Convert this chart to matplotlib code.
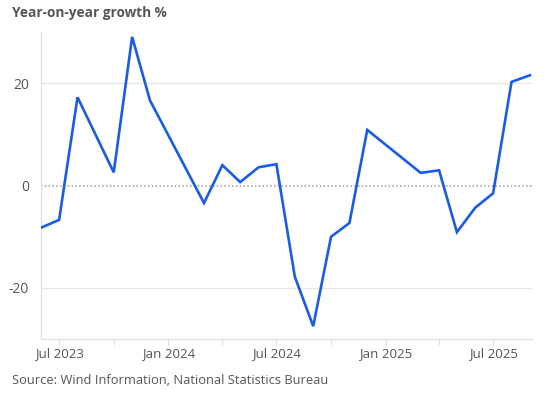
import matplotlib
matplotlib.use("Agg")
import matplotlib.pyplot as plt
import matplotlib.dates as mdates
import pandas as pd

months = ["2023-06", "2023-07", "2023-08", "2023-10", "2023-11", "2023-12",
          "2024-03", "2024-04", "2024-05", "2024-06", "2024-07", "2024-08",
          "2024-09", "2024-10", "2024-11", "2024-12",
          "2025-03", "2025-04", "2025-05", "2025-06", "2025-07", "2025-08", "2025-09"]
growth = [-8.2, -6.7, 17.3, 2.6, 29.1, 16.7,
          -3.4, 4.0, 0.7, 3.6, 4.2, -17.8,
          -27.5, -10.0, -7.3, 10.9,
          2.5, 3.0, -9.1, -4.3, -1.5, 20.3, 21.6]
ytick_vals = [-20, 0, 20]
ytick_labels = ["-20", "0", "20"]
title = "Year-on-year growth %"
source = "Source: Wind Information, National Statistics Bureau"

dates = pd.to_datetime(months)

plt.rcParams['font.family'] = ['Open Sans', 'DejaVu Sans']
fig = plt.figure(figsize=(5.59, 3.99), dpi=100)
ax = fig.add_axes([41.3/559, 1-339/399, (531.7-41.3)/559, (339-32.3)/399])

ax.axhline(20, color="#e6e6e6", lw=0.9, zorder=1)
ax.axhline(-20, color="#e6e6e6", lw=0.9, zorder=1)
ax.axhline(0, color="#9a9a9a", lw=1.1, ls=(0, (1, 1.5)), zorder=1)
ax.plot(dates, growth, color="#1a5ce5", lw=1.9, zorder=3, solid_joinstyle="miter")

ax.set_xlim(pd.Timestamp("2023-06-01"), pd.Timestamp("2025-09-04"))
ax.set_ylim(-30, 30)
ax.set_yticks(ytick_vals)
ax.set_yticklabels(ytick_labels)

ax.xaxis.set_major_locator(mdates.MonthLocator(bymonth=[1, 7]))
ax.xaxis.set_major_formatter(mdates.DateFormatter("%b %Y"))
ax.xaxis.set_minor_locator(mdates.MonthLocator(bymonth=[4, 10]))

for s in ["top", "right"]:
    ax.spines[s].set_visible(False)
for s in ["left", "bottom"]:
    ax.spines[s].set_color("#e0e0e0")
    ax.spines[s].set_linewidth(0.9)

ax.tick_params(axis="y", length=0, pad=9, labelsize=10, labelcolor="#555555")
ax.tick_params(axis="x", which="both", length=4, width=0.8, color="#e0e0e0",
               pad=1.5, labelsize=9.5, labelcolor="#555555")

fig.text(12/559, 1-13/399, title, fontsize=9.8, fontweight="bold", color="#555555",
         ha="left", va="center")
fig.text(12/559, 1-381/399, source, fontsize=9.3, color="#555555", ha="left", va="center")

fig.savefig("out.png", dpi=100)
